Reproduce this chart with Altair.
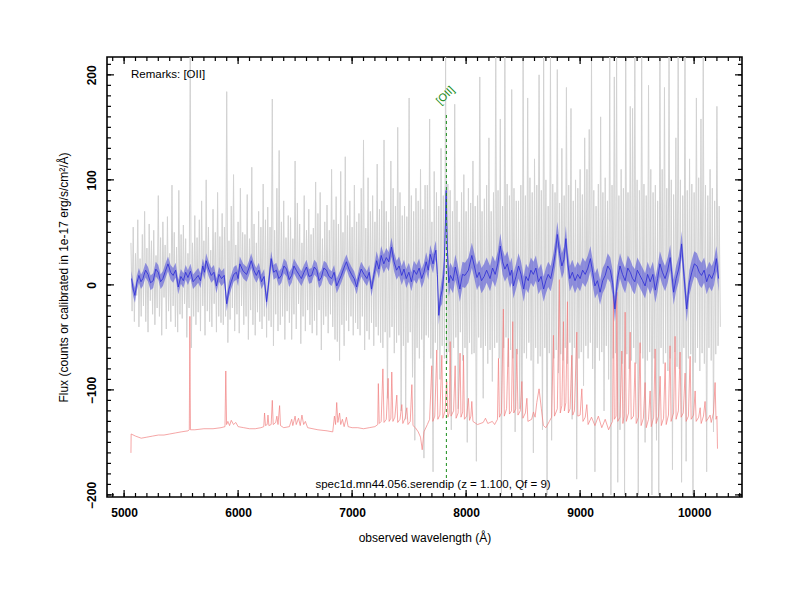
import altair as alt
import pandas as pd

# ---------------- data ----------------
# raw (noisy) spectrum, sampled every 10 A from 5060 A
gray_start = 5060
gray_step = 10
gray_flux = [
    40, -25, 55, -35, 30, -10, 62, -40, 25, -30, 48, -20, 70, -35, 35, -45, 58, -15, 42, -28,
    52, -38, 28, -22, 85, -30, 45, -48, 60, -12, 38, -42, 65, -25, 30, -35, 95, -20, 50, -40,
    36, -45, 90, -28, 48, -32, 57, -18, 44, -50, 30, -22, 217, -60, 40, -30, 66, -38, 45, -26,
    62, -44, 80, -20, 42, -48, 100, -25, 55, -35, 33, -40, 72, -18, 50, -45, 88, -30, 46, -36,
    68, -38, 55, -30, 184, -55, 42, -33, 75, -22, 105, -44, 38, -28, 60, -46, 92, -20, 50, -38,
    48, -30, 86, -52, 44, -24, 112, -38, 58, -48, 40, -26, 70, -35, 55, -42, 96, -30, 62, -50,
    74, -34, 55, -40, 177, -58, 52, -28, 92, -44, 128, -38, 60, -30, 80, -52, 45, -25, 66, -36,
    64, -52, 44, -28, 118, -42, 78, -18, 58, -56, 40, -30, 85, -44, 52, -24, 72, -38, 48, -46,
    54, -34, 98, -48, 68, -24, 88, -62, 44, -38, 60, -30, 76, -46, 52, -28, 110, -40, 62, -52,
    84, -54, 58, -72, 108, -38, 50, -58, 122, -34, 66, -44, 80, -30, 55, -48, 95, -36, 60, -42,
    68, -48, 92, -30, 138, -62, 54, -44, 102, -52, 70, -36, 85, -58, 60, -40, 115, -48, 72, -55,
    80, -60, 138, -45, 70, -108, 60, -50, 118, -40, 92, -65, 75, -55, 150, -48, 88, -120, 66, -58,
    75, -128, 65, -55, 178, -45, 85, -88, 70, -148, 92, -60, 80, -70, 110, -52, 72, -165, 95, -48,
    95, -50, 158, -70, 60, -178, 108, -55, 88, -62, 75, -90, 130, -58, 85, -70, 217, -75, 96, -64,
    90, -138, 70, -60, 172, -50, 80, -118, 60, -45, 88, -72, 105, -60, 70, -150, 92, -55, 78, -66,
    118, -65, 75, -168, 85, -50, 198, -60, 70, -108, 82, -58, 95, -75, 140, -62, 70, -92, 88, -60,
    217, -55, 90, -70, 158, -200, 75, -60, 217, -50, 96, -78, 85, -62, 186, -70, 92, -140, 80, -66,
    80, -118, 95, -188, 217, -65, 85, -70, 178, -55, 102, -72, 88, -160, 120, -60, 95, -75, 200, -68,
    90, -138, 217, -60, 100, -200, 75, -65, 217, -148, 96, -70, 88, -62, 205, -84, 78, -66, 130, -72,
    85, -60, 188, -75, 95, -55, 168, -128, 80, -60, 100, -185, 92, -70, 110, -64, 86, -96, 140, -58,
    110, -70, 148, -55, 217, -80, 90, -178, 75, -60, 96, -72, 160, -64, 88, -120, 102, -58, 80, -90,
    217, -200, 95, -70, 198, -65, 217, -188, 85, -138, 110, -75, 92, -200, 217, -66, 88, -80, 170, -72,
    168, -60, 217, -75, 100, -200, 90, -65, 217, -70, 96, -150, 85, -72, 190, -64, 110, -200, 88, -70,
    95, -148, 80, -200, 217, -60, 110, -75, 188, -65, 92, -82, 217, -70, 100, -176, 86, -64, 140, -78,
    217, -80, 100, -188, 85, -60, 217, -168, 90, -70, 120, -66, 96, -200, 88, -74, 178, -60, 102, -82,
    158, -65, 217, -75, 95, -178, 85, -60, 110, -72, 92, -140, 80, -66, 170, -58, 75, -40,
]
gray_wave = [gray_start + gray_step * i for i in range(len(gray_flux))]

# smoothed spectrum
blue_wave = [
    5065, 5080, 5095, 5112, 5130, 5148, 5165, 5188, 5210, 5232,
    5255, 5278, 5300, 5320, 5340, 5362, 5385, 5408, 5430, 5452,
    5475, 5498, 5520, 5540, 5560, 5582, 5605, 5628, 5650, 5670,
    5690, 5705, 5720, 5742, 5765, 5788, 5810, 5832, 5855, 5878,
    5900, 5920, 5940, 5962, 5985, 6000, 6015, 6045, 6075, 6095,
    6115, 6138, 6160, 6182, 6205, 6228, 6250, 6270, 6290, 6312,
    6335, 6358, 6380, 6402, 6425, 6448, 6470, 6490, 6510, 6532,
    6555, 6578, 6600, 6622, 6645, 6668, 6690, 6710, 6730, 6752,
    6775, 6798, 6820, 6842, 6865, 6885, 6905, 6928, 6950, 6972,
    6995, 7018, 7040, 7060, 7080, 7105, 7130, 7150, 7170, 7192,
    7215, 7235, 7255, 7278, 7300, 7322, 7345, 7368, 7390, 7412,
    7435, 7455, 7475, 7498, 7520, 7542, 7565, 7588, 7610, 7630,
    7650, 7668, 7685, 7698, 7710, 7722, 7735, 7748, 7760, 7775,
    7790, 7805, 7815, 7825, 7835, 7848, 7862, 7885, 7905, 7925,
    7945, 7968, 7990, 8020, 8050, 8072, 8095, 8115, 8135, 8158,
    8180, 8195, 8210, 8232, 8255, 8278, 8300, 8320, 8340, 8362,
    8385, 8400, 8415, 8438, 8460, 8482, 8505, 8525, 8545, 8568,
    8590, 8612, 8635, 8658, 8680, 8700, 8720, 8742, 8765, 8782,
    8800, 8820, 8840, 8858, 8875, 8892, 8910, 8932, 8955, 8978,
    9000, 9022, 9045, 9068, 9090, 9110, 9130, 9152, 9175, 9198,
    9220, 9242, 9265, 9285, 9305, 9328, 9350, 9372, 9395, 9418,
    9440, 9460, 9480, 9502, 9525, 9548, 9570, 9592, 9615, 9638,
    9660, 9680, 9700, 9722, 9745, 9768, 9790, 9805, 9820, 9842,
    9865, 9878, 9890, 9912, 9935, 9958, 9980, 10002, 10025, 10045,
    10065, 10088, 10110, 10132, 10155, 10175, 10195, 10215]
blue_flux = [
    6, -4, -10, 2, 9, 3, 6, 14, 10, 2,
    4, 15, 12, 3, 6, 13, 20, 12, 9, 14,
    -2, 8, 4, 12, 7, 13, 3, 6, 9, 4,
    18, 12, 23, 15, 9, 12, -1, 10, 6, 9,
    -18, -4, 3, 10, 12, 6, 20, 13, 10, 16,
    23, 14, 9, 14, 3, 8, -16, 4, 25, 12,
    14, 6, 9, 18, 15, 5, 9, 18, 14, 10,
    6, 12, 17, 8, 9, 17, 14, 4, 7, 16,
    14, 8, 6, 12, -1, 4, 9, 16, 22, 15,
    10, 6, -2, 8, 15, 10, 6, 12, -4, 10,
    23, 15, 28, 20, 26, 22, 36, 22, 14, 18,
    9, 15, 6, 12, 3, 14, 10, 16, 6, 12,
    22, 14, 29, 24, 20, 28, 33, 10, -29, -12,
    -5, 10, 45, 90, 35, 2, 9, 4, 17, 8,
    -4, 10, 9, 14, 28, 18, 7, 12, 4, 8,
    14, 10, 6, 16, 10, 20, 37, 22, 15, 20,
    9, 14, -1, 8, 18, 10, -4, 8, 4, 14,
    10, 16, 3, 8, -4, 4, 10, 6, 18, 30,
    48, 30, 18, 24, 44, 20, 6, 12, 4, 10,
    6, 14, 10, 16, 25, 12, -1, 4, -7, 4,
    9, 18, 14, 2, -23, 6, 18, 10, 4, 16,
    12, 6, 3, 14, 9, 4, -1, 10, 3, 10,
    -5, 6, 20, 12, 6, 14, 26, 10, -7, 6,
    15, 24, 39, 8, -23, 2, 12, 20, 18, 12,
    9, 14, 3, 10, 6, 12, 25, 6]

# 1-sigma error of the smoothed spectrum, by wavelength range
err_edges = [5000, 7200, 7790, 7850, 10300]
err_values = [7, 9, 13, 12]

# sky spectrum (offset)
sky_wave = [5060, 5062, 5100, 5150, 5200, 5250, 5300, 5350, 5400, 5450, 5500, 5560,
            5572, 5577, 5582, 5620, 5700, 5780, 5850, 5885, 5892, 5899, 5910, 5925,
            5940, 5960, 5980, 6000, 6050, 6100, 6150, 6200, 6225, 6232, 6240, 6255,
            6262, 6270, 6290, 6300, 6308, 6330, 6340, 6350, 6364, 6372, 6400, 6450,
            6470, 6480, 6500, 6510, 6530, 6545, 6560, 6575, 6590, 6610, 6700, 6780,
            6830, 6845, 6855, 6865, 6875, 6890, 6900, 6915, 6930, 6950, 6965, 7000,
            7050, 7100, 7150, 7200, 7225, 7230, 7238, 7255, 7270, 7280, 7300, 7316,
            7325, 7340, 7348, 7358, 7375, 7392, 7400, 7420, 7436, 7445, 7465, 7480,
            7490, 7510, 7524, 7534, 7555, 7580, 7600, 7615, 7630, 7660, 7680, 7699,
            7708, 7725, 7743, 7752, 7770, 7787, 7796, 7815, 7830, 7840, 7852, 7860,
            7868, 7890, 7904, 7912, 7930, 7947, 7955, 7970, 7977, 7985, 8005, 8020,
            8030, 8042, 8050, 8060, 8100, 8150, 8170, 8190, 8230, 8250, 8275, 8284,
            8292, 8310, 8327, 8335, 8355, 8371, 8380, 8398, 8409, 8418, 8435, 8445,
            8455, 8475, 8489, 8498, 8520, 8533, 8542, 8575, 8591, 8605, 8620, 8640,
            8660, 8678, 8700, 8730, 8750, 8766, 8775, 8800, 8818, 8826, 8840, 8854,
            8862, 8875, 8889, 8897, 8912, 8927, 8935, 8950, 8971, 8980, 9000, 9015,
            9025, 9045, 9059, 9070, 9100, 9130, 9160, 9190, 9220, 9250, 9270, 9285,
            9292, 9300, 9315, 9322, 9330, 9350, 9366, 9375, 9385, 9395, 9405, 9425,
            9439, 9448, 9468, 9482, 9492, 9512, 9526, 9535, 9555, 9570, 9580, 9600,
            9614, 9624, 9645, 9658, 9667, 9688, 9702, 9712, 9732, 9746, 9755, 9775,
            9789, 9798, 9820, 9833, 9842, 9862, 9877, 9886, 9905, 9921, 9930, 9950,
            9965, 9974, 9995, 10009, 10018, 10040, 10053, 10062, 10082, 10096, 10105, 10125,
            10140, 10150, 10170, 10184, 10192, 10200, 10205]
sky_flux = [-160, -142, -144, -146, -145, -144, -143, -143, -142, -141, -140, -139,
            -138, -30, -138, -138, -137, -137, -136, -135, -82, -133, -130, -134,
            -129, -133, -131, -135, -136, -137, -137, -136, -135, -122, -134, -133,
            -124, -134, -133, -110, -133, -131, -125, -133, -115, -134, -136, -135,
            -128, -134, -125, -133, -127, -134, -124, -133, -130, -136, -138, -139,
            -140, -125, -133, -112, -131, -122, -133, -128, -135, -126, -135, -136,
            -136, -137, -136, -135, -133, -94, -132, -130, -80, -131, -128, -89,
            -130, -127, -83, -130, -126, -105, -131, -128, -114, -132, -127, -117,
            -133, -130, -95, -134, -136, -140, -145, -157, -140, -133, -128, -77,
            -130, -125, -62, -128, -124, -67, -127, -120, -92, -126, -122, -54,
            -125, -120, -77, -127, -122, -65, -126, -121, -67, -128, -125, -108,
            -129, -125, -111, -130, -133, -131, -127, -132, -130, -133, -128, -70,
            -126, -122, -23, -125, -118, -51, -123, -120, -35, -122, -118, -61,
            -124, -120, -92, -127, -122, -108, -130, -128, -121, -126, -112, -99,
            -118, -134, -136, -130, -126, -48, -125, -118, 5, -122, -115, -35,
            -120, -112, -16, -122, -118, -67, -124, -120, -45, -125, -124, -99,
            -130, -126, -114, -133, -126, -134, -125, -136, -128, -138, -133, -130,
            -10, -128, -125, -7, -130, -126, -63, -132, -125, -26, -130, -122,
            -45, -128, -125, -74, -132, -126, -55, -134, -127, -93, -136, -128,
            -101, -135, -126, -61, -132, -125, -87, -134, -127, -74, -133, -124,
            -58, -130, -122, -49, -128, -120, -64, -126, -122, -84, -130, -125,
            -68, -128, -124, -101, -130, -126, -117, -132, -125, -111, -130, -127,
            -124, -131, -122, -93, -128, -125, -156]

line_wave = [7827]
line_label = ["[OII]"]
remark_text = ["Remarks: [OII]"]
info_text = ["spec1d.mn44.056.serendip (z = 1.100, Qf = 9)"]

x_major = [5000, 6000, 7000, 8000, 9000, 10000]
x_minor = list(range(4900, 10401, 100))
y_major = [-200, -100, 0, 100, 200]
y_minor = list(range(-200, 211, 10))

x_domain = [4850, 10420]
y_domain = [-202, 217]

W, H = 635, 440
FONT = "Liberation Sans"


def err_for(w):
    for lo, hi, e in zip(err_edges[:-1], err_edges[1:], err_values):
        if lo <= w < hi:
            return e
    return err_values[-1]


gray_df = pd.DataFrame({"wave": gray_wave, "flux": gray_flux})
sky_df = pd.DataFrame({"wave": sky_wave, "flux": sky_flux})
blue_df = pd.DataFrame({"wave": blue_wave, "flux": blue_flux})
blue_df["err"] = [err_for(w) for w in blue_wave]
blue_df["lo"] = blue_df["flux"] - blue_df["err"]
blue_df["hi"] = blue_df["flux"] + blue_df["err"]

xscale = alt.Scale(domain=x_domain, nice=False, zero=False)
yscale = alt.Scale(domain=y_domain, nice=False, zero=False)

xaxis = alt.Axis(values=x_major, format="d", title="observed wavelength (Å)",
                 labelPadding=10, titlePadding=14, tickSize=0, ticks=False,
                 domain=False, grid=False)
yaxis = alt.Axis(values=y_major, format="d",
                 title="Flux (counts or calibrated in 1e-17 erg/s/cm²/Å)",
                 labelAngle=270, labelAlign="center", labelBaseline="bottom",
                 labelPadding=9, titlePadding=15, tickSize=0, ticks=False,
                 domain=False, grid=False)


def X(field="wave"):
    return alt.X(f"{field}:Q", scale=xscale, axis=xaxis)


def Y(field="flux"):
    return alt.Y(f"{field}:Q", scale=yscale, axis=yaxis)


gray = alt.Chart(gray_df).mark_line(color="#d2d2d2", strokeWidth=1.0, clip=True).encode(
    x=X(), y=Y())
sky = alt.Chart(sky_df).mark_line(color="#f08080", strokeWidth=0.7, clip=True).encode(
    x=X(), y=Y())
band = alt.Chart(blue_df).mark_area(color="#5a5ad8", opacity=0.62, clip=True).encode(
    x=X(), y=Y("lo"), y2="hi:Q")
blue = alt.Chart(blue_df).mark_line(color="#2b2bd6", strokeWidth=0.8, clip=True).encode(
    x=X(), y=Y())

line_df = pd.DataFrame({"wave": line_wave, "label": line_label})
oii_rule = alt.Chart(line_df).mark_rule(color="#1a8c1a", strokeDash=[3, 3], strokeWidth=1).encode(
    x=X(), y=alt.value(58), y2=alt.value(421))
oii_text = alt.Chart(line_df).mark_text(color="#1a8c1a", angle=315, fontSize=11, font=FONT,
                                        align="center", baseline="middle", dx=-1).encode(
    x=X(), y=alt.value(38), text="label:N")

remark = alt.Chart(pd.DataFrame({"t": remark_text})).mark_text(
    align="left", baseline="middle", fontSize=11.5, font=FONT, color="black").encode(
    x=alt.value(24), y=alt.value(18), text="t:N")
info = alt.Chart(pd.DataFrame({"t": info_text})).mark_text(
    align="center", baseline="middle", fontSize=11.5, font=FONT, color="black").encode(
    x=alt.value(326), y=alt.value(428), text="t:N")

xmaj_df = pd.DataFrame({"wave": x_major})
xmin_df = pd.DataFrame({"wave": x_minor})
ymaj_df = pd.DataFrame({"flux": y_major})
ymin_df = pd.DataFrame({"flux": y_minor})


def xticks(df, length):
    bot = alt.Chart(df).mark_rule(color="black", strokeWidth=1.2, clip=True).encode(
        x=X(), y=alt.value(H), y2=alt.value(H - length))
    top = alt.Chart(df).mark_rule(color="black", strokeWidth=1.2, clip=True).encode(
        x=X(), y=alt.value(0), y2=alt.value(length))
    return [bot, top]


def yticks(df, length):
    left = alt.Chart(df).mark_rule(color="black", strokeWidth=1.2, clip=True).encode(
        y=Y(), x=alt.value(0), x2=alt.value(length))
    right = alt.Chart(df).mark_rule(color="black", strokeWidth=1.2, clip=True).encode(
        y=Y(), x=alt.value(W), x2=alt.value(W - length))
    return [left, right]


layers = [gray, sky, band, blue, oii_rule, oii_text, remark, info]
layers += xticks(xmin_df, 4) + xticks(xmaj_df, 7)
layers += yticks(ymin_df, 4) + yticks(ymaj_df, 7)

chart = alt.layer(*layers).properties(
    width=W, height=H,
    autosize=alt.AutoSizeParams(type="none"),
    padding={"left": 99, "top": 49, "right": 40, "bottom": 50},
).configure_view(
    stroke="black", strokeWidth=1.6
).configure_axis(
    labelFont=FONT, labelFontSize=12, labelFontWeight="bold", labelColor="black",
    titleFont=FONT, titleFontSize=12, titleFontWeight="normal", titleColor="black",
)

chart.save("out.html", embed_options={"renderer": "svg", "actions": False})
